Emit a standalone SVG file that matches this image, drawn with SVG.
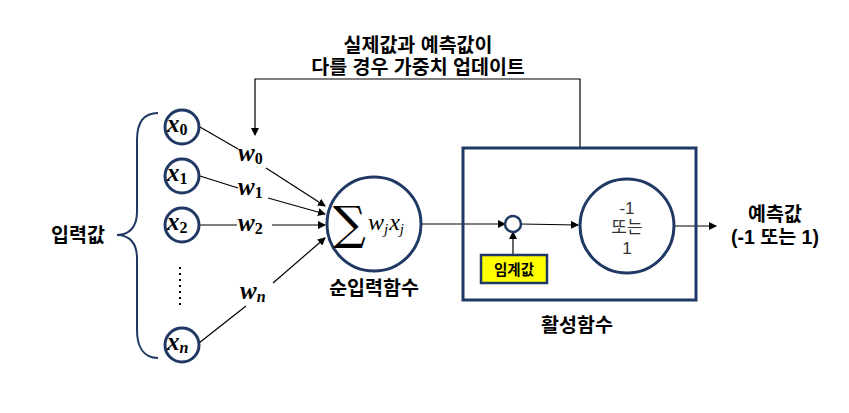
<svg xmlns="http://www.w3.org/2000/svg" width="849" height="413" viewBox="0 0 849 413">
<defs>
<marker id="arr" markerWidth="8" markerHeight="8" refX="7" refY="4" orient="auto" markerUnits="userSpaceOnUse">
<path d="M0,0 L8,4 L0,8 Z" fill="#000"/>
</marker>
</defs>
<style>
.node{fill:#fff;stroke:#1F3864;stroke-width:3}
.ln{fill:none;stroke:#000;stroke-width:1.2}
.ko{font-family:"Liberation Sans","Noto Sans CJK KR",sans-serif;font-weight:bold;font-size:19.5px;fill:#000;text-anchor:middle}
.m{font-family:"Liberation Serif","DejaVu Serif",serif;font-style:italic;font-weight:bold;font-size:25px;fill:#000}
.sub{font-size:16px;font-style:normal}
.subi{font-size:16px;font-style:italic}
.mn{font-family:"Liberation Serif","DejaVu Serif",serif;font-style:italic;font-size:24px;fill:#000}
</style>
<rect width="849" height="413" fill="#fff"/>

<g id="connectors">
<path class="ln" d="M580,148 V79 H255 V135" marker-end="url(#arr)"/>
<path class="ln" d="M200,127 L238,149"/>
<path class="ln" d="M266,168 L325,206" marker-end="url(#arr)"/>
<path class="ln" d="M200,176 L238,188"/>
<path class="ln" d="M268,198 L325,214" marker-end="url(#arr)"/>
<path class="ln" d="M200,225 L237,225"/>
<path class="ln" d="M272,225 L325,225" marker-end="url(#arr)"/>
<path class="ln" d="M199,343 L246,306"/>
<path class="ln" d="M273,283 L325,238" marker-end="url(#arr)"/>
<path class="ln" d="M422,224 L505,224" marker-end="url(#arr)"/>
<path class="ln" d="M521,224 L578,225" marker-end="url(#arr)"/>
<path class="ln" d="M513,255 L513,232" marker-end="url(#arr)"/>
<path class="ln" d="M675,226 L716,226" marker-end="url(#arr)"/>
</g>

<g id="feedback-label">
<text class="ko" x="418" y="52">실제값과 예측값이</text>
<text class="ko" x="418" y="74">다를 경우 가중치 업데이트</text>
</g>

<g id="input-brace">
<path d="M158,113 C143,113 137,124 137,140 L137,212 C137,226 130,235 117,235 C130,235 137,244 137,258 L137,330 C137,346 143,358 158,358" fill="none" stroke="#1F3864" stroke-width="2"/>
<text class="ko" x="78" y="242">입력값</text>
</g>

<g id="x0"><circle class="node" cx="182" cy="127" r="17"/><text class="m" x="167" y="132">x<tspan class="sub" dy="3">0</tspan></text></g>
<g id="x1"><circle class="node" cx="182" cy="176" r="17"/><text class="m" x="167" y="181">x<tspan class="sub" dy="3">1</tspan></text></g>
<g id="x2"><circle class="node" cx="182" cy="225" r="17"/><text class="m" x="167" y="230">x<tspan class="sub" dy="3">2</tspan></text></g>
<g id="dots"><path d="M180,267 V308" stroke="#000" stroke-width="2" stroke-dasharray="2,4" fill="none"/></g>
<g id="xn"><circle class="node" cx="182" cy="345" r="17"/><text class="m" x="167" y="350">x<tspan class="subi" dy="3">n</tspan></text></g>

<g id="weights">
<text class="m" x="238" y="161">w<tspan class="sub" dy="3">0</tspan></text>
<text class="m" x="238" y="195">w<tspan class="sub" dy="3">1</tspan></text>
<text class="m" x="238" y="231">w<tspan class="sub" dy="3">2</tspan></text>
<text class="m" x="240" y="299">w<tspan class="subi" dy="3">n</tspan></text>
</g>

<g id="net-input">
<circle class="node" cx="374" cy="224" r="47"/>
<text x="333" y="239" font-family="'DejaVu Serif',serif" font-size="46" fill="#000">∑</text>
<text class="mn" x="368" y="230">w<tspan font-size="15" dy="4">j</tspan><tspan dy="-4" dx="1">x</tspan><tspan font-size="15" dy="4">j</tspan></text>
<text class="ko" x="374" y="295">순입력함수</text>
</g>

<g id="activation">
<rect x="463" y="148" width="233" height="152" fill="none" stroke="#1F3864" stroke-width="3"/>
<text class="ko" x="577" y="332">활성함수</text>
</g>

<g id="threshold-node"><circle cx="513" cy="224" r="8" fill="#fff" stroke="#1F3864" stroke-width="2.5"/></g>

<g id="threshold">
<rect x="481" y="255" width="66" height="28" fill="#FFFF00" stroke="#1F3864" stroke-width="2.5"/>
<text x="514" y="275" text-anchor="middle" font-family="'Liberation Sans','Noto Sans CJK KR',sans-serif" font-weight="bold" font-size="14.5" fill="#000">임계값</text>
</g>

<g id="step">
<circle class="node" cx="627" cy="226" r="47"/>
<g font-family="'Liberation Sans','Noto Sans CJK KR',sans-serif" font-size="17" fill="#333" text-anchor="middle">
<text x="627" y="214">-1</text>
<text x="627" y="233">또는</text>
<text x="627" y="254">1</text>
</g>
</g>

<g id="output">
<text class="ko" x="775" y="221">예측값</text>
<text class="ko" x="775" y="244">(-1 또는 1)</text>
</g>
</svg>
